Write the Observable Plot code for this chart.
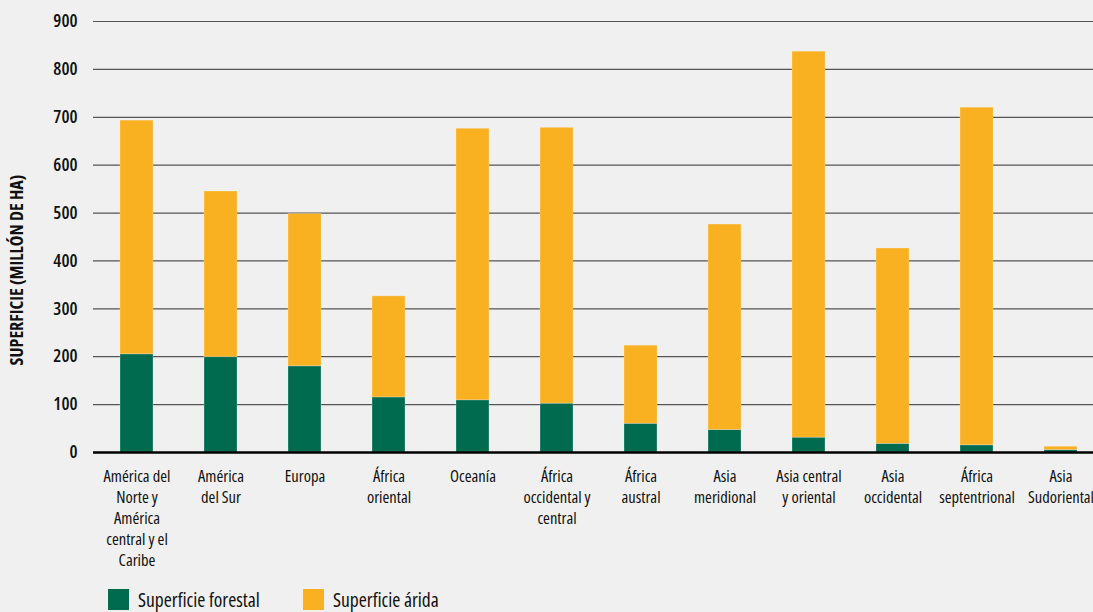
<!DOCTYPE html>
<html>
<head>
<meta charset="utf-8">
<script src="https://cdn.jsdelivr.net/npm/d3@7"></script>
<script src="https://cdn.jsdelivr.net/npm/@observablehq/plot@0.6"></script>
<style>
  html, body { margin: 0; padding: 0; background: #f0f0f0; overflow: hidden; width: 1093px; height: 612px; }
  #chart svg { display: block; background: #f0f0f0; max-width: none; font-stretch: 75%; }
  .legend { position: absolute; top: 586px; left: 0; width: 1093px; height: 26px; font-family: "Open Sans", sans-serif; font-stretch: 75%; font-size: 19.5px; color: #111; }
  .legend .item { position: absolute; top: 0; display: flex; align-items: center; }
  .legend .sw { width: 21px; height: 21px; margin-right: 9px; }
</style>
</head>
<body>
<div id="chart"></div>
<div class="legend" id="legend"></div>
<script>
const regions = [
  "América del\nNorte y\nAmérica\ncentral y el\nCaribe",
  "América\ndel Sur",
  "Europa",
  "África\noriental",
  "Oceanía",
  "África\noccidental y\ncentral",
  "África\naustral",
  "Asia\nmeridional",
  "Asia central\ny oriental",
  "Asia\noccidental",
  "África\nseptentrional",
  "Asia\nSudoriental"
];
// Superficie forestal (millón de ha)
const forestal = [205, 199, 180, 115, 109, 102, 60, 47, 31, 18, 15, 5];
// Total (forestal + árida) height of each bar
const totals = [693, 545, 498, 326, 676, 678, 223, 476, 837, 426, 720, 12];
const series = ["Superficie forestal", "Superficie árida"];
const colors = ["#006b4f", "#f9b122"];
const yTicks = [0, 100, 200, 300, 400, 500, 600, 700, 800, 900];
const yTitle = "SUPERFICIE (MILLÓN DE HA)";

const data = [];
regions.forEach((r, i) => {
  data.push({region: r, serie: series[0], value: forestal[i]});
  data.push({region: r, serie: series[1], value: totals[i] - forestal[i]});
});

const font = '"Open Sans", sans-serif';

const chart = Plot.plot({
  width: 1093,
  height: 586,
  marginLeft: 93,
  marginRight: -11,
  marginTop: 21,
  marginBottom: 134,
  style: {background: "#f0f0f0", fontFamily: font, color: "#111"},
  x: {domain: regions, paddingInner: 0.61, paddingOuter: 0.305},
  y: {domain: [0, 900]},
  color: {domain: series, range: colors},
  marks: [
    Plot.ruleY(yTicks.filter(d => d > 0), {stroke: "#555", strokeWidth: 1.2}),
    Plot.barY(data, {x: "region", y: "value", fill: "serie", order: series, stroke: "#f0f0f0", strokeOpacity: 0.35, strokeWidth: 0.8}),
    Plot.ruleY([0], {stroke: "#000", strokeWidth: 2.5}),
    Plot.axisX({tickSize: 0, tickPadding: 14, fontSize: 16.5, lineHeight: 1.28, label: null}),
    Plot.axisY({ticks: yTicks, tickSize: 0, tickPadding: 16, fontSize: 18, fontWeight: 600, label: null}),
    Plot.text([yTitle], {text: d => d, frameAnchor: "left", textAnchor: "middle", rotate: -90, dx: -76, dy: 33,
      fontSize: 18, fontWeight: "bold", fill: "#111"})
  ]
});
document.getElementById("chart").appendChild(chart);

const leg = document.getElementById("legend");
const legendX = [108, 303];
series.forEach((s, i) => {
  const it = document.createElement("div");
  it.className = "item";
  it.style.left = legendX[i] + "px";
  const sw = document.createElement("div");
  sw.className = "sw";
  sw.style.background = colors[i];
  const t = document.createElement("span");
  t.textContent = s;
  it.appendChild(sw); it.appendChild(t);
  leg.appendChild(it);
});
</script>
</body>
</html>
